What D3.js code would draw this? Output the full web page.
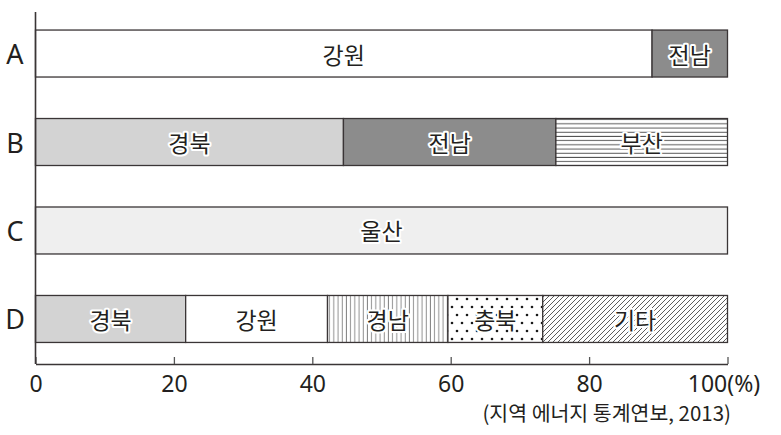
<!DOCTYPE html>
<html><head><meta charset="utf-8">
<script src="https://cdn.jsdelivr.net/npm/d3@7"></script>
<style>
html,body{margin:0;padding:0;background:#fff;}
svg{display:block;font-family:"Noto Sans CJK KR","Noto Sans",sans-serif;}
</style></head>
<body><svg id="chart" width="781" height="435"></svg>
<script>
const categories = ["A","B","C","D"];
const barRegions = [["강원","전남"],["경북","전남","부산"],["울산"],["경북","강원","경남","충북","기타"]];
const barValues = [[89.1,10.9],[44.5,30.7,24.8],[100],[21.7,20.5,17.4,13.7,26.7]];
const xTicks = [0,20,40,60,80,100];
const sourceText = "(지역 에너지 통계연보, 2013)";

const svg = d3.select("#chart");
const ink = "#231f20";
const defs = svg.append("defs");

// patterns
const ph = defs.append("pattern").attr("id","hlines").attr("patternUnits","userSpaceOnUse").attr("width",8).attr("height",4.2);
ph.append("rect").attr("width",8).attr("height",4.2).attr("fill","#fff");
ph.append("line").attr("x1",0).attr("x2",8).attr("y1",2).attr("y2",2).attr("stroke","#444").attr("stroke-width",0.9);

const pv = defs.append("pattern").attr("id","vlines").attr("patternUnits","userSpaceOnUse").attr("width",4.2).attr("height",8);
pv.append("rect").attr("width",4.2).attr("height",8).attr("fill","#fff");
pv.append("line").attr("y1",0).attr("y2",8).attr("x1",2).attr("x2",2).attr("stroke","#666").attr("stroke-width",0.8);

const pd = defs.append("pattern").attr("id","dots").attr("patternUnits","userSpaceOnUse").attr("width",10).attr("height",16);
pd.append("rect").attr("width",10).attr("height",16).attr("fill","#fff");
pd.append("circle").attr("cx",2).attr("cy",3).attr("r",1.3).attr("fill","#1a1a1a");
pd.append("circle").attr("cx",7).attr("cy",11).attr("r",1.3).attr("fill","#1a1a1a");

const pg = defs.append("pattern").attr("id","diag").attr("patternUnits","userSpaceOnUse").attr("width",5).attr("height",5);
pg.append("rect").attr("width",5).attr("height",5).attr("fill","#fff");
pg.append("path").attr("d","M-1,1 l2,-2 M0,5 l5,-5 M4,6 l2,-2").attr("stroke","#333").attr("stroke-width",0.8);

const fills = {"강원":"#ffffff","전남":"#8c8c8c","경북":"#d3d3d3","울산":"#efefef",
  "부산":"url(#hlines)","경남":"url(#vlines)","충북":"url(#dots)","기타":"url(#diag)"};

const x = d3.scaleLinear().domain([0,100]).range([35.5,727.5]);
const y = d3.scaleBand().domain(categories).range([9.25,363.25]).paddingInner(0.469).paddingOuter(0.235);

// build segments
const segs = [];
categories.forEach((c,i)=>{
  let acc = 0;
  barRegions[i].forEach((r,j)=>{
    const v = barValues[i][j];
    segs.push({cat:c, region:r, x0:acc, x1:acc+v});
    acc += v;
  });
});

const g = svg.append("g");
g.selectAll("rect.seg").data(segs).join("rect").attr("class","seg")
  .attr("x",d=>x(d.x0)).attr("width",d=>x(d.x1)-x(d.x0))
  .attr("y",d=>y(d.cat)).attr("height",y.bandwidth())
  .attr("fill",d=>fills[d.region]).attr("stroke","#3a3536").attr("stroke-width",1.3);

g.selectAll("text.seg").data(segs).join("text").attr("class","seg")
  .attr("x",d=>x((d.x0+d.x1)/2)).attr("y",d=>y(d.cat)+y.bandwidth()/2)
  .attr("text-anchor","middle").attr("dominant-baseline","central")
  .attr("font-size",23).attr("fill",ink)
  .attr("stroke","#fff").attr("stroke-width",4).attr("stroke-linejoin","round")
  .attr("paint-order","stroke")
  .text(d=>d.region);

// category labels
svg.selectAll("text.cat").data(categories).join("text").attr("class","cat")
  .attr("x",15).attr("y",d=>y(d)+y.bandwidth()/2)
  .attr("text-anchor","middle").attr("dominant-baseline","central")
  .attr("font-size",27).attr("fill",ink).attr("font-family","'Noto Sans','Noto Sans CJK KR',sans-serif")
  .text(d=>d);

// x axis
const xAxis = d3.axisBottom(x).tickValues(xTicks).tickSize(-7).tickSizeOuter(0).tickPadding(12)
  .tickFormat(d=> d===100 ? "100(%)" : d);
const ax = svg.append("g").attr("transform","translate(0,364)").call(xAxis);
ax.select(".domain").attr("stroke","#3a3536").attr("stroke-width",1.5);
ax.selectAll(".tick line").attr("stroke","#555").attr("stroke-width",1.3);
ax.selectAll(".tick text").attr("font-size",23).attr("fill",ink)
  .attr("font-family","'Noto Sans','Noto Sans CJK KR',sans-serif")
  .attr("dx",d=>d===100?-4:0);

// y axis line
svg.append("line").attr("x1",x(0)).attr("x2",x(0)).attr("y1",12).attr("y2",364)
  .attr("stroke","#3a3536").attr("stroke-width",1.6);

// source
svg.append("text").attr("x",731).attr("y",421).attr("text-anchor","end")
  .attr("font-size",20.5).attr("fill",ink).text(sourceText);
</script></body></html>
